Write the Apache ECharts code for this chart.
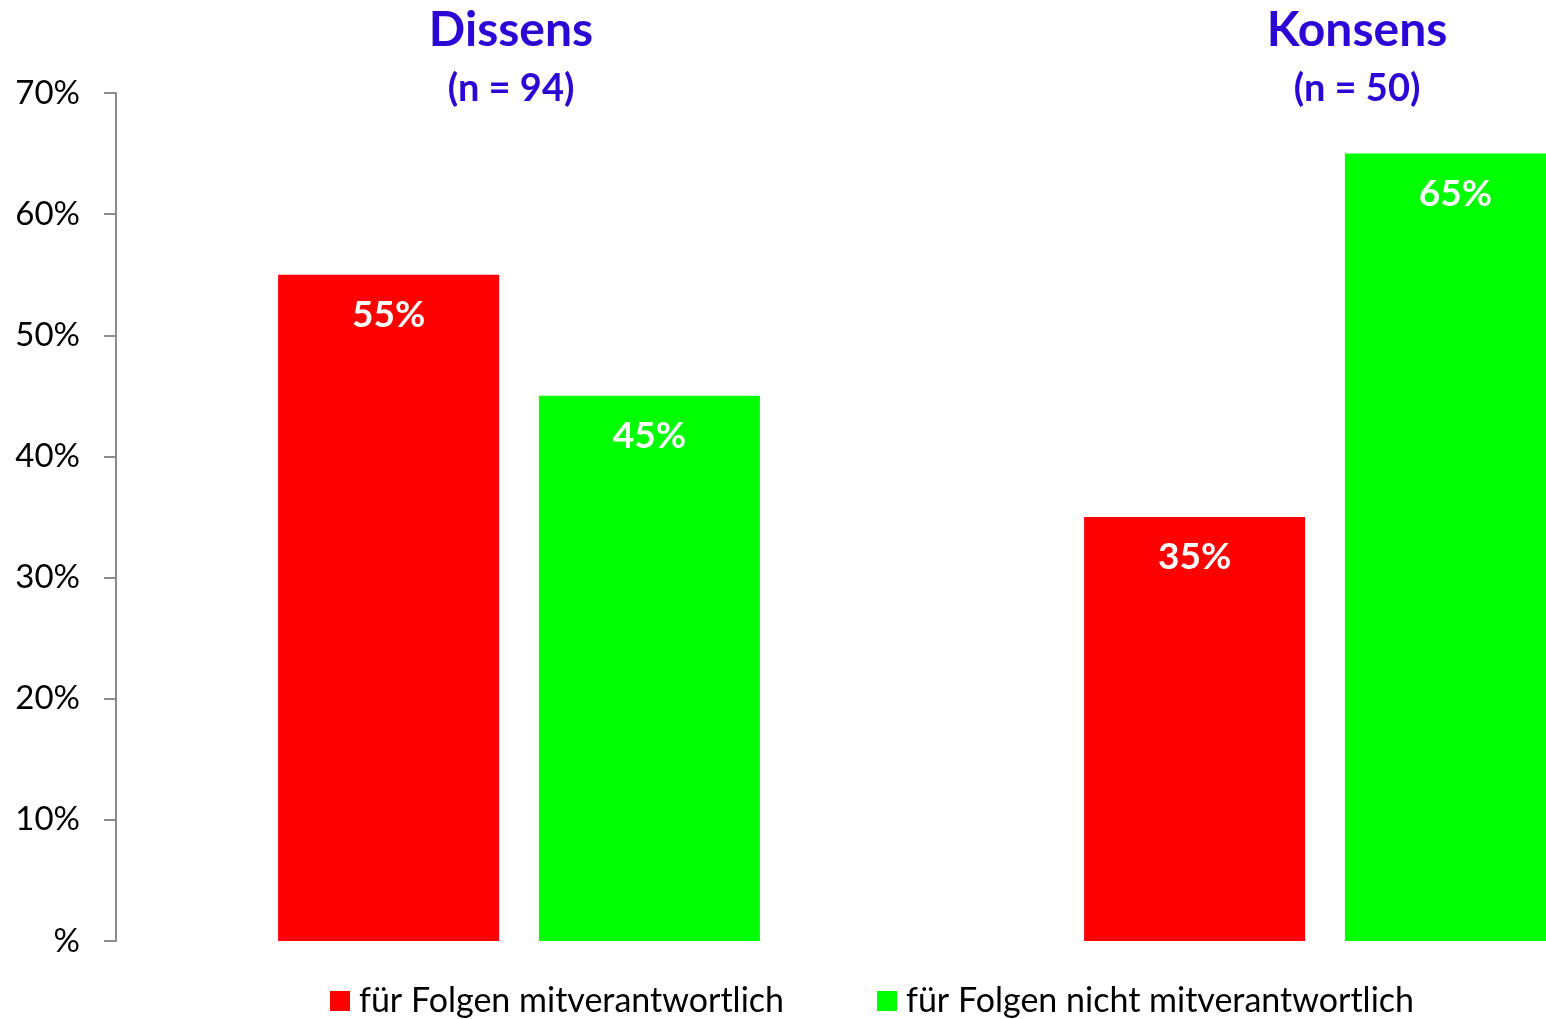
<!DOCTYPE html>
<html>
<head>
<meta charset="utf-8">
<title>Dissens / Konsens</title>
<script src="https://cdn.jsdelivr.net/npm/echarts@6.0.0/dist/echarts.min.js"></script>
<style>
  html, body { margin: 0; padding: 0; background: #fff; }
  #chart { width: 1546px; height: 1019px; }
</style>
</head>
<body>
<div id="chart"></div>
<script>
const categories = ["Dissens", "Konsens"];
const groupNotes = ["(n = 94)", "(n = 50)"];
const mitverantwortlich = [55, 35];
const nichtMitverantwortlich = [45, 65];
const seriesNames = ["für Folgen mitverantwortlich", "für Folgen nicht mitverantwortlich"];

const FONT = "Lato, 'Open Sans', sans-serif";
const TITLE_COLOR = "#2b06d4";

const chart = echarts.init(document.getElementById("chart"));

function barLabel() {
  return {
    show: true,
    position: "insideTop",
    distance: 22,
    color: "#fff",
    fontFamily: FONT,
    fontWeight: "bold",
    fontSize: 37,
    formatter: (p) => p.value + "%",
  };
}

chart.setOption({
  animation: false,
  backgroundColor: "#fff",
  title: categories.map((name, i) => ({
    text: name,
    subtext: groupNotes[i],
    left: i === 0 ? 506 : 1352,
    top: 2,
    textAlign: "center",
    itemGap: 15,
    textStyle: { color: TITLE_COLOR, fontFamily: FONT, fontWeight: "bold", fontSize: 48 },
    subtextStyle: { color: TITLE_COLOR, fontFamily: FONT, fontWeight: "bold", fontSize: 38 },
  })),
  legend: {
    left: 325,
    top: 979,
    icon: "rect",
    itemWidth: 20,
    itemHeight: 20,
    itemGap: 93,
    textStyle: { fontFamily: FONT, fontSize: 34, color: "#000", padding: [0, 0, 0, 4] },
    data: seriesNames,
  },
  grid: { left: 116, top: 93, width: 1612, height: 848, outerBoundsMode: "none" },
  xAxis: {
    type: "category",
    data: categories,
    axisLine: { show: false },
    axisTick: { show: false },
    axisLabel: { show: false },
  },
  yAxis: {
    type: "value",
    min: 0,
    max: 70,
    interval: 10,
    axisLine: { show: true, lineStyle: { color: "#8c8c8c", width: 2 } },
    axisTick: { show: true, length: 12, lineStyle: { color: "#8c8c8c", width: 2 } },
    splitLine: { show: false },
    axisLabel: {
      margin: 36,
      color: "#000",
      fontFamily: FONT,
      fontSize: 33,
      formatter: (v) => (v === 0 ? "%" : v + "%"),
    },
  },
  series: [
    {
      name: seriesNames[0],
      type: "bar",
      data: mitverantwortlich,
      barWidth: 221,
      barGap: "18%",
      itemStyle: { color: "#ff0000" },
      label: barLabel(),
    },
    {
      name: seriesNames[1],
      type: "bar",
      data: nichtMitverantwortlich,
      barWidth: 221,
      barGap: "18%",
      itemStyle: { color: "#00ff00" },
      label: barLabel(),
    },
  ],
});
</script>
</body>
</html>
